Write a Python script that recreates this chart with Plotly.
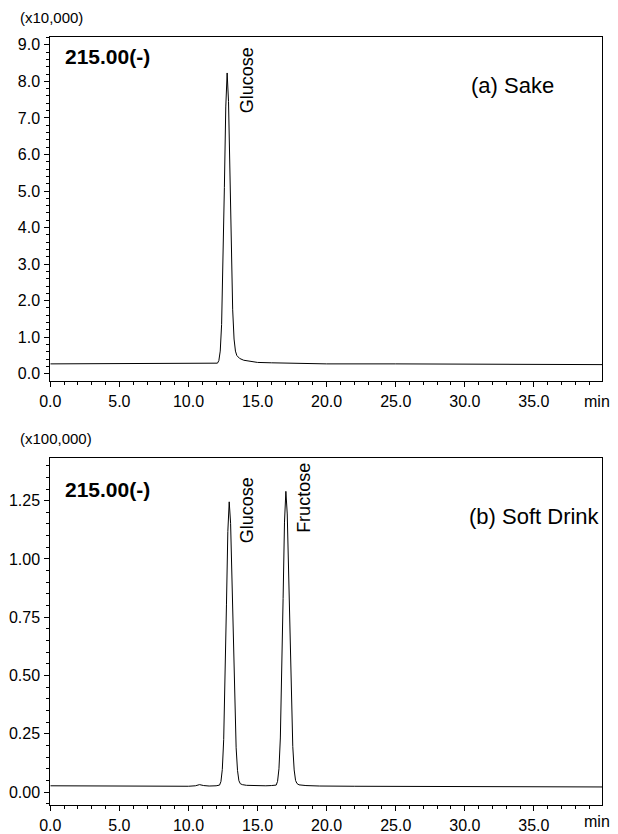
import plotly.graph_objects as go

# ---- data ----
# (a) Sake, intensity in units of x10,000
sake_time = [0.0, 2.0, 5.0, 8.0, 10.0, 11.0, 11.5, 12.0, 12.1, 12.2, 12.3, 12.4, 12.5, 12.6, 12.7,
             12.8, 12.9, 13.0, 13.1, 13.2, 13.3, 13.4, 13.5, 13.7, 14.0, 14.5, 15.0, 16.0, 17.0,
             18.0, 20.0, 25.0, 30.0, 35.0, 38.0, 39.95]
sake_int = [0.27, 0.27, 0.27, 0.27, 0.27, 0.275, 0.28, 0.28, 0.29, 0.36, 0.62, 1.35, 2.85, 5.10, 7.30,
            8.23, 7.45, 5.50, 3.30, 1.75, 0.95, 0.62, 0.50, 0.42, 0.37, 0.33, 0.31, 0.30, 0.29,
            0.275, 0.27, 0.27, 0.27, 0.27, 0.27, 0.25]

# (b) Soft Drink, intensity in units of x100,000
soft_time = [0.0, 2.0, 5.0, 8.0, 10.0, 10.5, 10.8, 11.1, 11.5, 12.0, 12.25, 12.35, 12.45, 12.55,
             12.65, 12.75, 12.85, 12.95, 13.05, 13.15, 13.25, 13.35, 13.45, 13.55, 13.65, 13.75,
             13.9, 14.2, 15.0, 15.6, 16.0, 16.35, 16.45, 16.55, 16.65, 16.75, 16.85, 16.95, 17.05,
             17.15, 17.25, 17.35, 17.45, 17.55, 17.65, 17.75, 17.85, 18.0, 18.5, 19.5, 22.0, 25.0,
             30.0, 35.0, 38.0, 39.95]
soft_int = [0.027, 0.026, 0.026, 0.025, 0.025, 0.027, 0.032, 0.028, 0.026, 0.027, 0.030, 0.045,
            0.097, 0.225, 0.466, 0.803, 1.118, 1.245, 1.153, 0.912, 0.620, 0.364, 0.190, 0.093,
            0.049, 0.036, 0.032, 0.029, 0.027, 0.027, 0.028, 0.030, 0.046, 0.100, 0.232, 0.482,
            0.830, 1.158, 1.290, 1.193, 0.944, 0.641, 0.376, 0.196, 0.095, 0.050, 0.037, 0.031,
            0.028, 0.026, 0.025, 0.025, 0.025, 0.025, 0.025, 0.022]

x_ticks = [0, 5, 10, 15, 20, 25, 30, 35]
x_ticklabels = ["0.0", "5.0", "10.0", "15.0", "20.0", "25.0", "30.0", "35.0"]
sake_yticks = [0, 1, 2, 3, 4, 5, 6, 7, 8, 9]
sake_yticklabels = ["0.0", "1.0", "2.0", "3.0", "4.0", "5.0", "6.0", "7.0", "8.0", "9.0"]
soft_yticks = [0, 0.25, 0.5, 0.75, 1.0, 1.25]
soft_yticklabels = ["0.00", "0.25", "0.50", "0.75", "1.00", "1.25"]

# ---- figure ----
W, H = 618, 834
FONT = "Liberation Sans, Arial, sans-serif"

def px_x(p):
    return p / W

def px_y(p):
    return 1 - p / H

fig = go.Figure()
fig.add_trace(go.Scatter(x=sake_time, y=sake_int, mode="lines",
                         line=dict(color="#000000", width=1), xaxis="x", yaxis="y",
                         showlegend=False, hoverinfo="skip"))
fig.add_trace(go.Scatter(x=soft_time, y=soft_int, mode="lines",
                         line=dict(color="#000000", width=1), xaxis="x2", yaxis="y2",
                         showlegend=False, hoverinfo="skip"))

common_axis = dict(showline=True, linecolor="#000000", linewidth=1, mirror=True,
                   ticks="outside", tickcolor="#000000", tickwidth=1, ticklen=5,
                   showgrid=False, zeroline=False, ticklabelstandoff=1,
                   tickfont=dict(family=FONT, size=16, color="#000000"))

xdom = [px_x(40), px_x(602)]
fig.update_layout(
    width=W, height=H,
    margin=dict(l=0, r=0, t=0, b=0),
    paper_bgcolor="white", plot_bgcolor="white",
    xaxis=dict(domain=xdom, range=[0, 39.95], anchor="y", tickvals=x_ticks,
               ticktext=x_ticklabels,
               minor=dict(dtick=1, ticks="outside", ticklen=3, tickcolor="#000000"),
               **common_axis),
    yaxis=dict(domain=[px_y(383), px_y(37)], range=[-0.19, 9.22], anchor="x",
               tickvals=sake_yticks, ticktext=sake_yticklabels,
               minor=dict(dtick=0.2, tick0=0, ticks="outside", ticklen=3, tickcolor="#000000"),
               **common_axis),
    xaxis2=dict(domain=xdom, range=[0, 39.95], anchor="y2", tickvals=x_ticks,
                ticktext=x_ticklabels,
                minor=dict(dtick=1, ticks="outside", ticklen=3, tickcolor="#000000"),
                **common_axis),
    yaxis2=dict(domain=[px_y(810), px_y(461)], range=[-0.056, 1.432], anchor="x2",
                tickvals=soft_yticks, ticktext=soft_yticklabels,
                minor=dict(dtick=0.05, tick0=0, ticks="outside", ticklen=3, tickcolor="#000000"),
                **common_axis),
)

def ann(text, x, y, xref="paper", yref="paper", size=14, bold=False, angle=0,
        xanchor="left", yanchor="middle"):
    fig.add_annotation(text=("<b>%s</b>" % text) if bold else text, x=x, y=y, xref=xref,
                       yref=yref, showarrow=False, textangle=angle, xanchor=xanchor,
                       yanchor=yanchor, font=dict(family=FONT, size=size, color="#000000"))

# top panel texts
ann("(x10,000)", px_x(7), px_y(18), size=15)
ann("215.00(-)", px_x(53), px_y(57), size=21, bold=True)
ann("(a) Sake", px_x(466), px_y(86), size=22)
ann("min", px_x(597), px_y(404), size=16, xanchor="center")
ann("Glucose", 14.2, 9.0, xref="x", yref="y", size=18, angle=-90,
    xanchor="center", yanchor="top")

# bottom panel texts
ann("(x100,000)", px_x(7), px_y(441), size=15)
ann("215.00(-)", px_x(53), px_y(492), size=21, bold=True)
ann("(b) Soft Drink", px_x(464), px_y(520), size=22)
ann("min", px_x(597), px_y(826), size=16, xanchor="center")
ann("Glucose", 14.25, 1.36, xref="x2", yref="y2", size=18, angle=-90,
    xanchor="center", yanchor="top")
ann("Fructose", 18.35, 1.42, xref="x2", yref="y2", size=18, angle=-90,
    xanchor="center", yanchor="top")

fig.write_html("out.html")
